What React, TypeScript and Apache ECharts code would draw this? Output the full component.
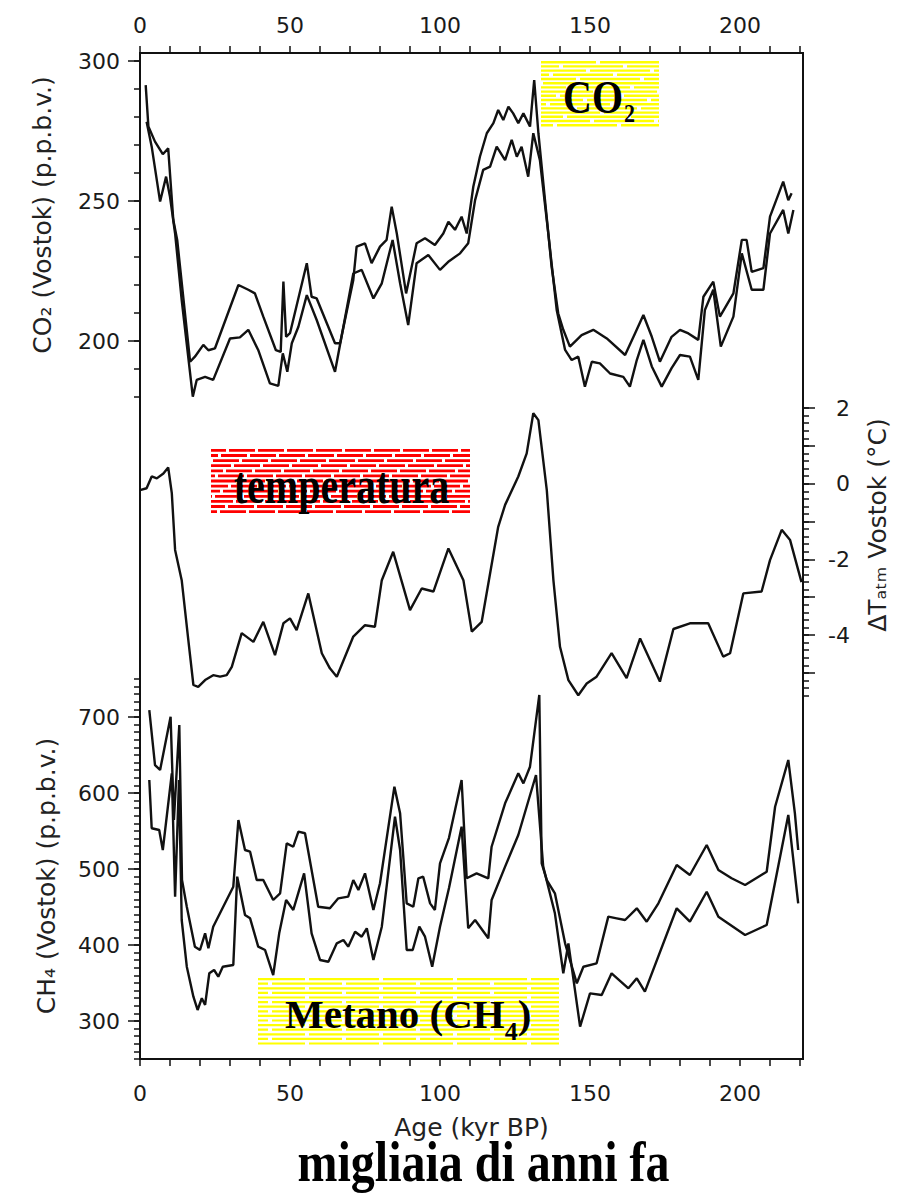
import React, { useEffect, useRef } from 'react';
import * as echarts from 'echarts';

// ---------- DATA (age in kyr BP) ----------
const co2UpperAge = [1.9, 2.8, 5.0, 7.6, 9.4, 11.1, 12.4, 16.7, 18.3, 21.1, 22.8, 25.0, 32.8, 36.1, 38.3, 41.1, 45.3, 46.9, 47.8, 48.7, 50.0, 55.6, 57.2, 58.9, 65.0, 66.7, 71.1, 72.2, 75.0, 77.2, 80.0, 82.2, 83.9, 85.6, 88.7, 92.2, 95.0, 98.3, 101.1, 102.8, 105.0, 107.2, 108.9, 111.1, 113.3, 115.6, 117.8, 119.4, 121.1, 122.8, 124.4, 126.1, 127.8, 130.0, 131.4, 132.8, 135.0, 137.2, 139.4, 141.1, 143.3, 147.2, 151.1, 155.6, 161.7, 165.0, 167.8, 170.6, 173.3, 177.2, 180.0, 182.8, 186.1, 187.8, 191.1, 193.3, 197.8, 200.6, 202.2, 203.9, 207.8, 210.0, 214.4, 216.1, 217.2];
const co2Upper = [291.4, 276.6, 271.2, 266.7, 268.8, 243.2, 236.1, 192.6, 194.4, 198.6, 196.7, 197.4, 220.0, 218.3, 217.0, 208.7, 196.7, 196.1, 221.2, 201.5, 202.8, 227.8, 215.8, 215.2, 199.2, 199.2, 221.8, 233.7, 234.9, 227.8, 233.7, 236.1, 248.0, 238.4, 217.0, 234.9, 236.7, 234.3, 238.4, 242.6, 239.7, 244.4, 238.4, 255.1, 265.8, 274.2, 277.8, 282.5, 278.9, 283.7, 281.3, 277.8, 281.3, 276.6, 293.2, 274.2, 250.3, 226.6, 209.9, 204.0, 198.0, 202.1, 204.0, 200.9, 195.0, 202.7, 209.3, 201.5, 192.6, 201.5, 204.0, 202.7, 200.4, 215.8, 221.2, 208.7, 217.0, 236.1, 236.1, 224.7, 226.0, 244.4, 256.9, 250.3, 252.8];

const co2LowerAge = [2.2, 3.9, 6.7, 8.7, 10.0, 11.7, 13.9, 17.6, 18.9, 21.7, 24.4, 30.0, 33.3, 36.1, 39.4, 43.3, 46.1, 47.6, 49.1, 50.6, 52.8, 55.6, 58.9, 65.0, 71.1, 73.9, 77.8, 80.6, 84.2, 86.7, 89.4, 92.2, 96.1, 100.0, 103.0, 106.7, 109.4, 111.7, 114.4, 116.7, 118.9, 121.7, 123.9, 125.6, 127.2, 129.4, 131.1, 133.3, 136.1, 138.9, 141.7, 143.9, 146.1, 148.3, 150.6, 153.3, 156.7, 161.1, 163.3, 165.6, 167.8, 170.6, 173.9, 177.2, 180.0, 183.3, 186.1, 188.3, 191.1, 193.6, 197.8, 200.6, 203.9, 207.8, 210.0, 214.4, 216.1, 217.8];
const co2Lower = [278.3, 269.4, 249.8, 258.7, 251.5, 238.4, 214.6, 180.1, 186.1, 187.2, 186.1, 200.9, 201.3, 204.0, 196.8, 184.9, 184.0, 195.6, 189.0, 199.2, 205.1, 216.4, 207.5, 189.0, 224.1, 225.4, 215.2, 220.6, 236.1, 220.6, 205.7, 227.8, 230.7, 225.4, 228.5, 231.3, 234.9, 250.3, 261.1, 262.3, 269.4, 264.6, 271.8, 265.8, 269.4, 258.7, 274.2, 264.6, 238.4, 211.1, 196.8, 193.2, 194.4, 183.7, 192.6, 192.0, 188.4, 187.2, 183.7, 193.2, 200.4, 190.9, 183.7, 190.3, 195.0, 194.4, 186.1, 211.1, 218.3, 198.0, 208.7, 231.3, 218.3, 218.3, 238.4, 246.8, 238.4, 246.8];

const tempAge = [0.0, 2.2, 3.9, 5.6, 7.8, 9.4, 10.6, 11.7, 13.9, 16.1, 17.8, 19.4, 21.7, 24.4, 26.7, 28.9, 30.6, 33.9, 37.8, 41.1, 45.0, 47.8, 50.0, 52.2, 56.1, 60.6, 63.3, 65.6, 71.1, 75.0, 78.3, 80.6, 84.4, 90.0, 93.9, 97.8, 102.8, 107.8, 110.6, 113.9, 119.4, 121.7, 126.1, 128.9, 131.1, 132.8, 135.6, 137.8, 140.0, 142.8, 146.1, 148.9, 152.2, 157.2, 162.2, 166.7, 173.3, 177.8, 183.3, 189.4, 194.4, 196.7, 201.1, 207.2, 210.0, 213.9, 216.7, 220.5];
const tempValue = [-0.17, -0.12, 0.19, 0.14, 0.27, 0.43, -0.25, -1.75, -2.55, -4.13, -5.32, -5.37, -5.19, -5.06, -5.10, -5.06, -4.84, -3.95, -4.18, -3.65, -4.53, -3.69, -3.56, -3.87, -2.90, -4.48, -4.88, -5.10, -4.04, -3.74, -3.78, -2.55, -1.80, -3.34, -2.77, -2.85, -1.71, -2.55, -3.91, -3.65, -1.14, -0.56, 0.19, 0.80, 1.86, 1.68, -0.17, -2.55, -4.31, -5.19, -5.59, -5.28, -5.10, -4.48, -5.14, -4.09, -5.23, -3.84, -3.69, -3.69, -4.57, -4.48, -2.90, -2.85, -2.02, -1.22, -1.49, -2.60];

const ch4UpperAge = [3.1, 5.0, 6.7, 10.2, 11.3, 13.1, 14.0, 15.6, 18.3, 20.0, 21.7, 22.8, 24.4, 27.2, 31.1, 32.8, 35.0, 36.7, 38.9, 41.1, 44.4, 46.7, 48.9, 51.1, 52.8, 55.0, 59.4, 63.3, 66.1, 69.4, 71.1, 72.8, 75.0, 77.8, 80.0, 84.8, 86.7, 88.9, 91.1, 92.8, 94.4, 96.7, 98.3, 100.0, 103.0, 107.2, 108.9, 112.2, 116.1, 117.2, 121.7, 126.1, 127.8, 130.0, 133.1, 133.9, 135.6, 138.3, 141.7, 145.6, 147.8, 152.2, 156.1, 158.9, 161.7, 165.6, 168.9, 172.8, 178.9, 183.3, 188.9, 192.8, 197.2, 201.7, 208.9, 211.7, 216.1, 218.3, 219.4];
const ch4Upper = [709.2, 636.8, 630.3, 700.4, 564.5, 689.5, 485.5, 450.4, 397.8, 393.4, 415.4, 395.7, 424.1, 446.1, 476.7, 564.5, 525.0, 522.8, 485.5, 485.5, 459.2, 468.0, 533.8, 529.3, 549.1, 547.0, 450.4, 448.3, 461.4, 463.6, 485.5, 472.4, 494.3, 446.1, 481.2, 608.3, 573.3, 454.8, 450.4, 487.8, 489.9, 454.8, 446.1, 507.5, 541.0, 617.1, 487.8, 494.3, 487.8, 529.3, 586.4, 625.9, 612.7, 634.6, 729.0, 507.5, 485.5, 468.0, 402.2, 349.6, 371.4, 375.9, 437.3, 435.1, 432.9, 448.3, 430.7, 454.8, 505.3, 492.1, 531.6, 498.7, 487.8, 478.9, 496.4, 581.9, 643.4, 573.3, 525.0];

const ch4LowerAge = [3.1, 3.9, 6.4, 7.6, 10.6, 11.7, 13.0, 13.9, 15.6, 17.8, 19.2, 20.6, 21.7, 23.1, 24.7, 26.1, 27.6, 31.1, 32.4, 35.0, 36.7, 39.4, 41.7, 44.4, 46.4, 48.7, 51.1, 54.7, 57.2, 60.0, 62.8, 65.6, 67.8, 69.4, 71.7, 73.9, 75.6, 77.8, 80.6, 85.0, 86.7, 88.9, 90.9, 93.1, 95.0, 97.4, 100.0, 103.0, 107.2, 109.4, 111.7, 116.1, 117.2, 121.7, 126.1, 132.0, 134.4, 138.3, 141.1, 142.8, 146.7, 150.0, 153.9, 157.2, 162.8, 165.6, 168.3, 178.9, 183.3, 188.9, 192.8, 201.7, 208.9, 216.1, 219.4];
const ch4Lower = [617.1, 553.6, 551.3, 525.0, 625.9, 463.6, 617.1, 432.9, 371.4, 332.0, 314.5, 329.9, 321.1, 362.8, 367.1, 358.3, 371.4, 373.7, 489.9, 439.5, 435.1, 397.8, 393.4, 360.5, 415.4, 459.2, 446.1, 494.3, 415.4, 380.3, 378.0, 402.2, 406.6, 397.8, 417.5, 410.9, 422.0, 380.3, 424.1, 568.8, 525.0, 393.4, 393.4, 424.1, 410.9, 371.4, 424.1, 475.0, 555.7, 422.0, 432.9, 408.8, 459.2, 503.1, 544.7, 623.7, 503.1, 441.7, 362.8, 402.2, 292.5, 336.4, 334.2, 362.8, 343.0, 356.2, 338.6, 448.3, 430.7, 470.1, 437.3, 413.2, 426.3, 571.1, 454.8];

// ---------- TICKS / LABELS ----------
const ageTicks = [0, 10, 20, 30, 40, 50, 60, 70, 80, 90, 100, 110, 120, 130, 140, 150, 160, 170, 180, 190, 200, 210, 220];
const ageLabels = [0, 50, 100, 150, 200];
const co2MinorTicks = [180, 190, 200, 210, 220, 230, 240, 250, 260, 270, 280, 290, 300];
const co2Labels = [200, 250, 300];
const tempMajorTicks = [-5, -4, -3, -2, -1, 0, 1, 2];
const tempLabels = [-4, -2, 0, 2];
const ch4MajorTicks = [300, 400, 500, 600, 700];
const ch4Labels = [300, 400, 500, 600, 700];

const ch4MinorTicks: number[] = [];
for (let v = 250; v <= 750; v += 10) ch4MinorTicks.push(v);

const zip = (a: number[], b: number[]) => a.map((x, i) => [x, b[i]]);

const INK = '#111';
const LABEL_FONT = 'DejaVu Sans';
const SERIF = 'Liberation Serif';

function stripeBox(x: number, y: number, w: number, h: number, step: number, thick: number, color: string, dash: number[], seed: number) {
  const els: any[] = [];
  els.push({ type: 'rect', z: 50, shape: { x, y, width: w, height: h }, style: { fill: '#ffffff' } });
  const period = dash[0] + dash[1];
  let i = 0;
  for (let yy = y + thick / 2; yy <= y + h - thick / 2 + 0.01; yy += step, i++) {
    els.push({
      type: 'line', z: 51,
      shape: { x1: x, y1: yy, x2: x + w, y2: yy },
      style: { stroke: color, lineWidth: thick, lineDash: dash, lineDashOffset: (i * 37 + seed) % period },
    });
  }
  return els;
}

function serifText(text: string, x: number, y: number, size: number, sy: number, align = 'left') {
  return {
    type: 'text', z: 60, x, y, scaleY: sy,
    style: {
      text, fill: '#000', fontSize: size, fontFamily: SERIF, fontWeight: 'bold',
      align, textAlign: align, verticalAlign: 'middle', textVerticalAlign: 'middle',
    },
  };
}

function axisNameText(text: string, x: number, y: number, size: number) {
  return {
    type: 'text', z: 40, x, y, rotation: Math.PI / 2,
    style: {
      text, fill: '#222', fontSize: size, fontFamily: LABEL_FONT,
      align: 'center', textAlign: 'center', verticalAlign: 'middle', textVerticalAlign: 'middle',
    },
  };
}

export default function App() {
  const ref = useRef<HTMLDivElement>(null);

  useEffect(() => {
    if (!ref.current) return;
    const chart = echarts.init(ref.current, undefined, { renderer: 'svg' });

    const ctx = document.createElement('canvas').getContext('2d')!;
    ctx.font = `bold 40px "${SERIF}"`;
    const wCO = ctx.measureText('CO').width;
    ctx.font = `bold 41px "${SERIF}"`;
    const wMet = ctx.measureText('Metano (CH').width;
    ctx.font = `bold 26px "${SERIF}"`;
    const w4 = ctx.measureText('4').width;

    const tickStyle = { color: INK, width: 1.5 };
    const labelStyle = { fontSize: 22, color: '#1a1a1a', fontFamily: LABEL_FONT };
    const xBase = { type: 'value', min: 0, max: 221, splitLine: { show: false } };
    const gridBase = { left: 140, width: 663 };

    const yMinor = (gridIndex: number, min: number, max: number, pos: string, ticks: number[]) => ({
      type: 'value', gridIndex, min, max, position: pos,
      axisLine: { show: false, onZero: false },
      axisTick: { show: true, customValues: ticks, length: 6, lineStyle: tickStyle },
      axisLabel: { show: false },
      splitLine: { show: false },
    });
    const yMajor = (gridIndex: number, min: number, max: number, pos: string, ticks: number[], labels: number[], extra: any = {}) => ({
      type: 'value', gridIndex, min, max, position: pos,
      axisLine: { show: false, onZero: false },
      axisTick: { show: true, customValues: ticks, length: 12, lineStyle: tickStyle },
      axisLabel: { show: true, customValues: labels, margin: 20, ...labelStyle, ...extra },
      splitLine: { show: false },
    });

    const lineSeries = (xi: number, yi: number, data: number[][]) => ({
      type: 'line', xAxisIndex: xi, yAxisIndex: yi, data,
      symbol: 'none', showSymbol: false, clip: false, silent: true,
      lineStyle: { color: INK, width: 2.4 },
    });

    const option: any = {
      animation: false,
      backgroundColor: '#ffffff',
      grid: [
        { ...gridBase, top: 53, height: 1006, show: true, borderColor: INK, borderWidth: 2, backgroundColor: 'transparent' },
        { ...gridBase, top: 61, height: 336 },
        { ...gridBase, top: 408, height: 287.6 },
        { ...gridBase, top: 679, height: 380 },
      ],
      xAxis: [
        {
          ...xBase, gridIndex: 0, position: 'top',
          axisLine: { show: true, onZero: false, lineStyle: { color: INK, width: 2 } },
          axisTick: { show: true, customValues: ageTicks, length: 7, lineStyle: tickStyle },
          axisLabel: { customValues: ageLabels, margin: 17, ...labelStyle },
        },
        {
          ...xBase, gridIndex: 0, position: 'bottom',
          axisLine: { show: true, onZero: false, lineStyle: { color: INK, width: 2 } },
          axisTick: { show: true, customValues: ageTicks, length: 7, lineStyle: tickStyle },
          axisLabel: { customValues: ageLabels, margin: 23, ...labelStyle },
          name: 'Age (kyr BP)', nameLocation: 'middle', nameGap: 56,
          nameTextStyle: { fontSize: 25, color: '#222', fontFamily: LABEL_FONT },
        },
        { ...xBase, gridIndex: 1, show: false, axisLine: { onZero: false } },
        { ...xBase, gridIndex: 2, show: false, axisLine: { onZero: false } },
        { ...xBase, gridIndex: 3, show: false, axisLine: { onZero: false } },
      ],
      yAxis: [
        { type: 'value', gridIndex: 0, show: false, min: 0, max: 1, axisLine: { onZero: false } },
        yMinor(1, 180, 300, 'left', co2MinorTicks),
        yMajor(1, 180, 300, 'left', co2Labels, co2Labels),
        {
          type: 'value', gridIndex: 2, min: -5.6, max: 2, interval: 0.2, position: 'right',
          axisLine: { show: false, onZero: false },
          axisTick: { show: true, length: 6, lineStyle: tickStyle },
          axisLabel: { show: false },
          splitLine: { show: false },
        },
        yMajor(2, -5.6, 2, 'right', tempMajorTicks, tempLabels, { margin: 47, align: 'right' }),
        yMinor(3, 250, 750, 'left', ch4MinorTicks),
        yMajor(3, 250, 750, 'left', ch4MajorTicks, ch4Labels),
      ],
      series: [
        lineSeries(2, 1, zip(co2UpperAge, co2Upper)),
        lineSeries(2, 1, zip(co2LowerAge, co2Lower)),
        lineSeries(3, 3, zip(tempAge, tempValue)),
        lineSeries(4, 5, zip(ch4UpperAge, ch4Upper)),
        lineSeries(4, 5, zip(ch4LowerAge, ch4Lower)),
      ],
      graphic: {
        elements: [
          axisNameText('CO₂ (Vostok) (p.p.b.v.)', 42, 215, 25),
          axisNameText('CH₄ (Vostok) (p.p.b.v.)', 46, 876, 25),
          axisNameText('ΔTₐₜₘ Vostok (°C)', 877, 525, 25),
          ...stripeBox(541, 61, 118, 69, 4.2, 2.4, '#ffff00', [60, 4], 5),
          serifText('CO', 563, 97.5, 40, 1.15),
          serifText('2', 563 + wCO + 1, 113.8, 22, 1.15),
          ...stripeBox(211, 449, 259, 68, 5.1, 2.8, '#ff0000', [26, 3], 11),
          serifText('temperatura', 341.5, 485.5, 40, 1.3, 'center'),
          ...stripeBox(258, 978, 301, 68, 4.6, 2.2, '#ffff00', [70, 4], 23),
          serifText('Metano (CH', 285, 1013.9, 41, 1),
          serifText('4', 285 + wMet, 1031.2, 26, 1),
          serifText(')', 285 + wMet + w4, 1013.9, 41, 1),
          serifText('migliaia di anni fa', 483.5, 1162, 48, 1.18, 'center'),
        ],
      },
    };

    chart.setOption(option);
    return () => chart.dispose();
  }, []);

  return (
    <div
      ref={ref}
      style={{ position: 'absolute', left: 0, top: 0, width: 901, height: 1195, background: '#fff' }}
    />
  );
}
